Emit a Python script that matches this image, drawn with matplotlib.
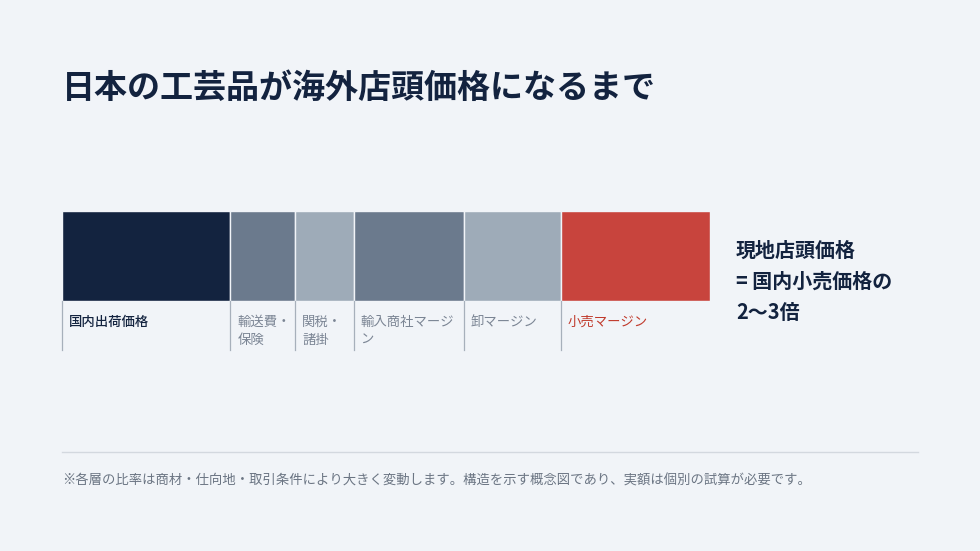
import matplotlib
matplotlib.use("Agg")
import matplotlib.pyplot as plt
import numpy as np

plt.rcParams['font.family'] = ['Noto Sans CJK JP', 'DejaVu Sans']

# data: share of final shelf price (approximate)
segments = ['国内出荷価格', '輸送費・\n保険', '関税・\n諸掛', '輸入商社マージ\nン', '卸マージン', '小売マージン']
shares = [26, 10, 9, 17, 15, 23]
colors = ['#13233f', '#6b7a8d', '#9eabb8', '#6b7a8d', '#9eabb8', '#c8443d']
label_colors = ['#13233f', '#7b8594', '#7b8594', '#7b8594', '#7b8594', '#c0392b']
label_weights = ['medium', 'normal', 'normal', 'normal', 'normal', 'normal']

title = '日本の工芸品が海外店頭価格になるまで'
result_text = '現地店頭価格\n= 国内小売価格の\n2〜3倍'
note = '※各層の比率は商材・仕向地・取引条件により大きく変動します。構造を示す概念図であり、実額は個別の試算が必要です。'

bg = '#f1f4f8'
W, H = 980, 551
fig = plt.figure(figsize=(W / 100, H / 100), dpi=100, facecolor=bg)

# full-figure axes in pixel coordinates for the text layout
base = fig.add_axes([0, 0, 1, 1])
base.set_xlim(0, W)
base.set_ylim(H, 0)
base.axis('off')
base.set_facecolor(bg)

base.text(62, 88, title, fontsize=23.8, fontweight='bold', color='#13233f',
          va='center', ha='left')

# bar axes
bar_left, bar_top, bar_w, bar_h = 62, 211, 648, 90
ax = fig.add_axes([bar_left / W, (H - bar_top - bar_h) / H, bar_w / W, bar_h / H])
ax.set_xlim(0, sum(shares))
ax.set_ylim(0, 1)
ax.axis('off')

lefts = np.concatenate([[0], np.cumsum(shares)[:-1]])
ax.barh(0.5, shares, left=lefts, height=1.0, color=colors,
        edgecolor=bg, linewidth=1.0)

line_len = 49 / bar_h
for i, (lab, l) in enumerate(zip(segments, lefts)):
    ax.plot([l, l], [0, -line_len], color='#a7b0bb', lw=0.9, clip_on=False)
    ax.annotate(lab, xy=(l, 0), xytext=(7, -14), textcoords='offset pixels',
                va='top', ha='left', fontsize=9.6, color=label_colors[i],
                fontweight=label_weights[i], linespacing=1.35,
                annotation_clip=False)

base.text(736, 281, result_text, fontsize=14.4, fontweight='bold', color='#13233f',
          va='center', ha='left', linespacing=1.6)

base.plot([62, 918], [452, 452], color='#d3d8df', lw=1)
base.text(62, 481, note, fontsize=9.6, color='#6b7583', va='center', ha='left')

fig.savefig('out.png', dpi=100, facecolor=bg)
